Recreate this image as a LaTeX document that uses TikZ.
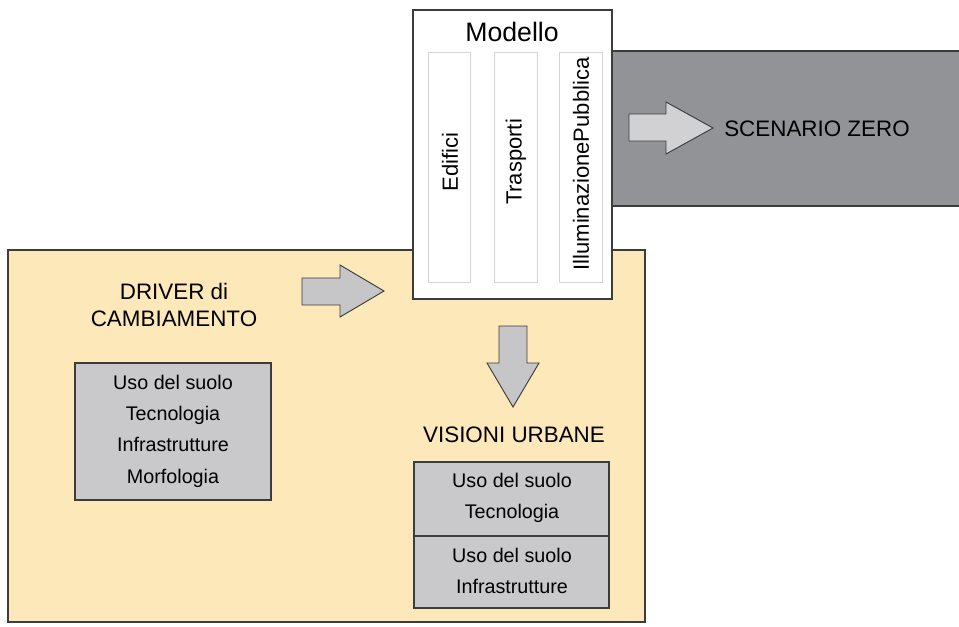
\documentclass[tikz,border=0pt]{standalone}
\usepackage{fontspec}
\setmainfont{Liberation Sans}
\usetikzlibrary{positioning}

\definecolor{fondo}{HTML}{FDE8B9}
\definecolor{grigio}{HTML}{C9C9CB}
\definecolor{scuro}{HTML}{929397}
\definecolor{freccia}{HTML}{C6C6C8}
\definecolor{bordo}{HTML}{3C3C3C}
\definecolor{colonna}{HTML}{D4D4D4}

\tikzset{
    area/.style={draw=bordo,line width=0.8pt},
    lista/.style={draw=bordo,fill=grigio,line width=0.8pt},
    blocco/.style={draw=bordo,fill=freccia,line width=0.7pt,line join=miter},
    colbox/.style={draw=colonna,fill=white,line width=0.6pt},
    titolo/.style={font=\fontsize{16.8}{20}\selectfont,align=center,inner sep=0pt},
    voce/.style={font=\fontsize{14.8}{23.5}\selectfont,align=center,inner sep=0pt},
    vert/.style={font=\fontsize{16.5}{20}\selectfont,rotate=90,inner sep=0pt}
}

\begin{document}
\begin{tikzpicture}[x=0.75pt,y=-0.75pt]

\useasboundingbox (0,0) rectangle (959,626);

% Scenario zero
\fill[scuro] (612,51) rectangle (962,206);
\draw[bordo,line width=0.8pt] (612,51) -- (962,51);
\draw[bordo,line width=0.8pt] (612,206) -- (962,206);

% Area dei driver
\draw[area,fill=fondo] (8,250) rectangle (645,622);

% Modello
\draw[area,fill=white] (413,10) rectangle (612,299);
\node[font=\fontsize{20}{24}\selectfont,inner sep=0pt] (modello) at (512,32) {Modello};

\draw[colbox] (428,52) rectangle (470,282);
\draw[colbox] (494,52) rectangle (537,282);
\draw[colbox] (559,52) rectangle (602,282);
\node[vert] (edifici) at (450,162) {Edifici};
\node[vert] (trasporti) at (516,162) {Trasporti};
\node[vert] (illuminazione) at (581,164) {IlluminazionePubblica};

% Frecce
\draw[blocco,fill=freccia!80!white]
(629,114) --
(666,114) --
(666,102) --
(713,128) --
(666,154) --
(666,141) --
(629,141) -- cycle;

\draw[blocco]
(302,278) --
(340,278) --
(340,265) --
(384,291) --
(340,317) --
(340,305) --
(302,305) -- cycle;

\draw[blocco]
(499,326) --
(527,326) --
(527,363) --
(539,363) --
(513,407) --
(487,363) --
(499,363) -- cycle;

% Testi
\node[titolo] (scenario) at (817,129) {SCENARIO ZERO};
\node[titolo,text depth=0pt] (driver) at (174,305) {DRIVER di\\CAMBIAMENTO};
\node[titolo] (visioni) at (514,435) {VISIONI URBANE};

% Liste
\draw[lista] (75,363) rectangle (271,500);
\node[voce] (fattori) at (173,431) {Uso del suolo\\Tecnologia\\Infrastrutture\\Morfologia};

\draw[lista] (414,462) rectangle (609,536);
\draw[lista] (414,536) rectangle (609,608);
\node[voce] (visionea) at (512,498) {Uso del suolo\\Tecnologia};
\node[voce] (visioneb) at (512,571) {Uso del suolo\\Infrastrutture};

\end{tikzpicture}
\end{document}
